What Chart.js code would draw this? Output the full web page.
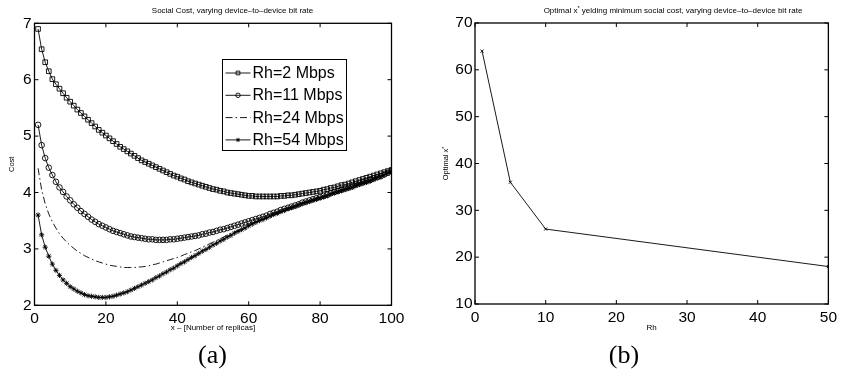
<!DOCTYPE html>
<html>
<head>
<meta charset="utf-8">
<script src="https://cdn.jsdelivr.net/npm/chart.js@4/dist/chart.umd.min.js"></script>
<style>
  html, body { margin: 0; padding: 0; background: #fff; }
  #wrap { position: relative; width: 841px; height: 383px; overflow: hidden; background: #fff; }
  .pane { position: absolute; top: 0; height: 383px; }
</style>
</head>
<body>
<div id="wrap">
  <div class="pane" style="left:0;width:420px"><canvas id="costChart" width="420" height="383"></canvas></div>
  <div class="pane" style="left:420px;width:421px"><canvas id="optChart" width="421" height="383"></canvas></div>
</div>
<script>
// ---- (a) social cost versus number of replicas ----
const replicas = [
  1,2,3,4,5,6,7,8,9,10,11,12,13,14,15,16,17,18,19,20,
  21,22,23,24,25,26,27,28,29,30,31,32,33,34,35,36,37,38,39,40,
  41,42,43,44,45,46,47,48,49,50,51,52,53,54,55,56,57,58,59,60,
  61,62,63,64,65,66,67,68,69,70,71,72,73,74,75,76,77,78,79,80,
  81,82,83,84,85,86,87,88,89,90,91,92,93,94,95,96,97,98,99,100
];
const costRh2 = [
  6.90,6.54,6.31,6.15,6.01,5.92,5.84,5.76,5.68,5.61,
  5.54,5.47,5.41,5.35,5.29,5.23,5.17,5.11,5.06,5.01,
  4.96,4.91,4.86,4.81,4.77,4.73,4.69,4.65,4.61,4.57,
  4.54,4.51,4.48,4.45,4.42,4.39,4.36,4.33,4.30,4.28,
  4.25,4.23,4.20,4.18,4.16,4.14,4.12,4.10,4.08,4.06,
  4.05,4.03,4.02,4.00,3.99,3.98,3.97,3.96,3.95,3.94,
  3.94,3.93,3.93,3.93,3.93,3.93,3.93,3.93,3.94,3.94,
  3.95,3.95,3.96,3.97,3.98,3.99,4.00,4.01,4.02,4.03,
  4.05,4.06,4.08,4.09,4.11,4.13,4.14,4.16,4.18,4.20,
  4.22,4.24,4.26,4.28,4.30,4.32,4.34,4.36,4.38,4.40
];
const costRh11 = [
  5.20,4.84,4.61,4.44,4.31,4.19,4.09,4.01,3.93,3.86,
  3.79,3.73,3.67,3.62,3.57,3.52,3.48,3.44,3.41,3.38,
  3.35,3.32,3.30,3.28,3.26,3.24,3.22,3.21,3.20,3.19,
  3.18,3.17,3.17,3.16,3.16,3.16,3.16,3.17,3.17,3.18,
  3.19,3.20,3.21,3.22,3.23,3.24,3.26,3.27,3.29,3.30,
  3.32,3.34,3.35,3.37,3.39,3.41,3.43,3.45,3.47,3.49,
  3.51,3.53,3.55,3.57,3.59,3.62,3.64,3.66,3.69,3.71,
  3.73,3.75,3.77,3.79,3.82,3.84,3.86,3.88,3.90,3.92,
  3.94,3.96,3.99,4.01,4.03,4.05,4.07,4.09,4.11,4.14,
  4.16,4.18,4.20,4.22,4.25,4.27,4.29,4.32,4.35,4.38
];
const costRh24 = [
  4.43,4.05,3.80,3.62,3.48,3.37,3.27,3.19,3.12,3.06,
  3.01,2.96,2.92,2.88,2.85,2.82,2.79,2.77,2.75,2.73,
  2.71,2.70,2.69,2.68,2.67,2.67,2.67,2.67,2.68,2.68,
  2.69,2.70,2.72,2.73,2.75,2.77,2.79,2.81,2.83,2.85,
  2.87,2.90,2.92,2.95,2.97,3.00,3.03,3.06,3.09,3.12,
  3.15,3.18,3.21,3.24,3.27,3.30,3.33,3.36,3.39,3.42,
  3.45,3.48,3.51,3.53,3.56,3.59,3.62,3.64,3.67,3.69,
  3.72,3.74,3.76,3.79,3.81,3.83,3.85,3.87,3.89,3.91,
  3.93,3.95,3.98,4.00,4.02,4.04,4.06,4.08,4.10,4.13,
  4.15,4.17,4.19,4.21,4.24,4.26,4.28,4.31,4.34,4.37
];
const costRh54 = [
  3.60,3.25,3.03,2.87,2.73,2.62,2.53,2.45,2.39,2.33,
  2.29,2.25,2.22,2.19,2.17,2.16,2.15,2.14,2.14,2.14,
  2.15,2.16,2.18,2.20,2.22,2.24,2.27,2.30,2.33,2.36,
  2.39,2.42,2.45,2.49,2.52,2.56,2.59,2.63,2.66,2.70,
  2.74,2.77,2.81,2.85,2.88,2.92,2.96,2.99,3.03,3.07,
  3.10,3.14,3.17,3.21,3.24,3.28,3.31,3.34,3.37,3.41,
  3.44,3.47,3.50,3.52,3.55,3.58,3.61,3.63,3.66,3.68,
  3.71,3.73,3.75,3.78,3.80,3.82,3.84,3.86,3.88,3.90,
  3.92,3.94,3.97,3.99,4.01,4.03,4.05,4.07,4.09,4.12,
  4.14,4.16,4.18,4.20,4.23,4.26,4.28,4.31,4.34,4.37
];
const costLabels = ['Rh=2 Mbps', 'Rh=11 Mbps', 'Rh=24 Mbps', 'Rh=54 Mbps'];
const costXTicks = [0, 20, 40, 60, 80, 100];
const costYTicks = [2, 3, 4, 5, 6, 7];

// ---- (b) optimal number of replicas versus Rh ----
const rhRates = [1, 5, 10, 50];
const optimalReplicas = [64, 36, 26, 18];
const optXTicks = [0, 10, 20, 30, 40, 50];
const optYTicks = [10, 20, 30, 40, 50, 60, 70];

const SANS = '"Liberation Sans", Arial, Helvetica, sans-serif';
const SERIF = '"Liberation Serif", "DejaVu Serif", serif';

function pairs(xs, ys) { return xs.map((x, i) => ({ x: x, y: ys[i] })); }

// Draw a string made of parts; parts flagged sup are drawn small and raised.
function drawParts(ctx, parts, size, cx, cy, angle) {
  ctx.save();
  ctx.translate(cx, cy);
  ctx.rotate(angle || 0);
  ctx.textBaseline = 'middle';
  ctx.textAlign = 'left';
  let total = 0;
  const widths = parts.map(p => {
    ctx.font = (p.sup ? size * 0.7 : size) + 'px ' + SANS;
    const w = ctx.measureText(p.t).width;
    total += w;
    return w;
  });
  let x = -total / 2;
  parts.forEach((p, i) => {
    ctx.font = (p.sup ? size * 0.7 : size) + 'px ' + SANS;
    ctx.fillStyle = '#000';
    ctx.fillText(p.t, x, p.sup ? -size * 0.25 : 0);
    x += widths[i];
  });
  ctx.restore();
}

// Axes box with inward tick marks on all four sides.
const frameBox = {
  id: 'frameBox',
  afterDatasetsDraw(chart) {
    const { ctx, chartArea: a, scales } = chart;
    ctx.save();
    ctx.strokeStyle = '#000';
    ctx.lineWidth = 1.3;
    ctx.strokeRect(a.left, a.top, a.right - a.left, a.bottom - a.top);
    ctx.lineWidth = 1;
    const len = 4;
    ctx.beginPath();
    scales.x.ticks.forEach(t => {
      const px = scales.x.getPixelForValue(t.value);
      ctx.moveTo(px, a.bottom); ctx.lineTo(px, a.bottom - len);
      ctx.moveTo(px, a.top); ctx.lineTo(px, a.top + len);
    });
    scales.y.ticks.forEach(t => {
      const py = scales.y.getPixelForValue(t.value);
      ctx.moveTo(a.left, py); ctx.lineTo(a.left + len, py);
      ctx.moveTo(a.right, py); ctx.lineTo(a.right - len, py);
    });
    ctx.stroke();
    ctx.restore();
  }
};

// Title, axis titles and the sub-figure caption.
const annotations = {
  id: 'annotations',
  afterDraw(chart, args, opts) {
    const ctx = chart.ctx;
    const a = chart.chartArea;
    drawParts(ctx, opts.title, 8, opts.titleX, 10.5, 0);
    drawParts(ctx, opts.xTitle, 8, (a.left + a.right) / 2, 327.5, 0);
    drawParts(ctx, opts.yTitle, 7.5, opts.yTitleX, (a.top + a.bottom) / 2, -Math.PI / 2);
    ctx.save();
    ctx.font = '26px ' + SERIF;
    ctx.fillStyle = '#000';
    ctx.textAlign = 'center';
    ctx.textBaseline = 'middle';
    ctx.fillText(opts.caption, opts.captionX, 356);
    ctx.restore();
  }
};

// Boxed legend drawn from the datasets' own styles.
const boxedLegend = {
  id: 'boxedLegend',
  afterDraw(chart, args, opts) {
    if (!opts.box) return;
    const ctx = chart.ctx;
    const b = opts.box;
    ctx.save();
    ctx.fillStyle = '#fff';
    ctx.fillRect(b.left, b.top, b.width, b.height);
    ctx.strokeStyle = '#000';
    ctx.lineWidth = 1;
    ctx.strokeRect(b.left, b.top, b.width, b.height);
    chart.data.datasets.forEach((ds, i) => {
      const y = b.top + b.firstRow + i * b.rowGap;
      const x0 = b.left + 3, x1 = b.left + 28;
      ctx.save();
      ctx.strokeStyle = ds.borderColor;
      ctx.lineWidth = ds.borderWidth;
      ctx.setLineDash(ds.borderDash || []);
      ctx.beginPath(); ctx.moveTo(x0, y); ctx.lineTo(x1, y); ctx.stroke();
      ctx.restore();
      if (ds.pointRadius > 0) {
        ctx.save();
        ctx.strokeStyle = ds.pointBorderColor;
        ctx.fillStyle = ds.pointBackgroundColor;
        ctx.lineWidth = ds.pointBorderWidth;
        Chart.helpers.drawPoint(ctx, {
          pointStyle: ds.pointStyle, radius: ds.pointRadius * 0.8, rotation: 0, borderWidth: ds.pointBorderWidth
        }, (x0 + x1) / 2, y);
        ctx.restore();
      }
      ctx.fillStyle = '#000';
      ctx.font = '16px ' + SANS;
      ctx.textAlign = 'left';
      ctx.textBaseline = 'middle';
      ctx.fillText(ds.label, x1 + 2, y + 0.5);
    });
    ctx.restore();
  }
};

function lineStyle(style, radius, dash) {
  return {
    borderColor: '#000', borderWidth: 0.9, borderDash: dash || [],
    pointStyle: style, pointRadius: radius, pointHoverRadius: radius,
    pointBorderColor: '#000', pointBackgroundColor: 'rgba(0,0,0,0)', pointBorderWidth: 0.9,
    tension: 0, fill: false
  };
}

function axis(min, max, step, tickList, size, fixed) {
  return {
    type: 'linear', min: min, max: max,
    grid: { display: false, drawTicks: false },
    border: { display: false },
    afterBuildTicks: s => { s.ticks = tickList.map(v => ({ value: v })); },
    ticks: { stepSize: step, color: '#000', padding: fixed.pad, font: { family: SANS, size: size } },
    afterFit: s => { if (fixed.w !== undefined) s.width = fixed.w; if (fixed.h !== undefined) s.height = fixed.h; }
  };
}

const common = {
  responsive: false,
  animation: false,
  events: [],
  plugins: { legend: { display: false }, tooltip: { enabled: false }, title: { display: false } }
};

new Chart(document.getElementById('costChart'), {
  type: 'line',
  data: {
    datasets: [
      Object.assign({ label: costLabels[0], data: pairs(replicas, costRh2) }, lineStyle('rect', 3.3)),
      Object.assign({ label: costLabels[1], data: pairs(replicas, costRh11) }, lineStyle('circle', 2.8)),
      Object.assign({ label: costLabels[2], data: pairs(replicas, costRh24) }, lineStyle('circle', 0, [7, 3, 1.5, 3])),
      Object.assign({ label: costLabels[3], data: pairs(replicas, costRh54) }, lineStyle('star', 2.6))
    ]
  },
  options: Object.assign({}, common, {
    layout: { padding: { top: 23.3, left: 0, right: 28.5, bottom: 47.7 } },
    scales: {
      x: axis(0, 100, 20, costXTicks, 15.5, { h: 30, pad: 4 }),
      y: axis(2, 7, 1, costYTicks, 15.5, { w: 34.5, pad: 3 })
    },
    plugins: Object.assign({}, common.plugins, {
      annotations: {
        title: [{ t: 'Social Cost, varying device\u2013to\u2013device bit rate' }],
        titleX: 232.5,
        xTitle: [{ t: 'x \u2013 [Number of replicas]' }],
        yTitle: [{ t: 'Cost' }],
        yTitleX: 11.5,
        caption: '(a)', captionX: 212.5
      },
      boxedLegend: { box: { left: 222.5, top: 59.5, width: 124, height: 91, firstRow: 13.5, rowGap: 22.3 } }
    })
  }),
  plugins: [frameBox, annotations, boxedLegend]
});

new Chart(document.getElementById('optChart'), {
  type: 'line',
  data: {
    datasets: [
      Object.assign({ label: 'Optimal x*', data: pairs(rhRates, optimalReplicas) }, lineStyle('crossRot', 2.2))
    ]
  },
  options: Object.assign({}, common, {
    layout: { padding: { top: 23, left: 0, right: 9.3, bottom: 49 } },
    scales: {
      x: axis(0, 50, 10, optXTicks, 15.5, { h: 30, pad: 4 }),
      y: axis(10, 70, 10, optYTicks, 15.5, { w: 55, pad: 2.5 })
    },
    plugins: Object.assign({}, common.plugins, {
      annotations: {
        title: [{ t: 'Optimal x' }, { t: '*', sup: true }, { t: ' yelding minimum social cost, varying device\u2013to\u2013device bit rate' }],
        titleX: 253,
        xTitle: [{ t: 'Rh' }],
        yTitle: [{ t: 'Optimal x' }, { t: '*', sup: true }],
        yTitleX: 26,
        caption: '(b)', captionX: 204
      },
      boxedLegend: {}
    })
  }),
  plugins: [frameBox, annotations, boxedLegend]
});
</script>
</body>
</html>
